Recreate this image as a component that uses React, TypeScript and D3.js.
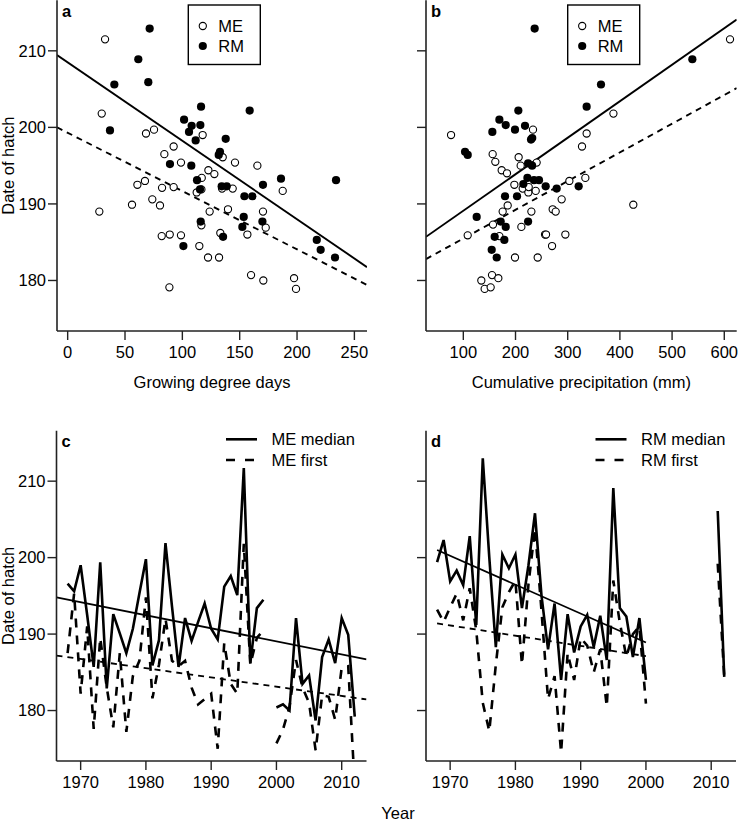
import React from 'react';
import * as d3 from 'd3';

// tick values
const hatchTicks = [180, 190, 200, 210];
const gddTicks = [0, 50, 100, 150, 200, 250];
const precipTicks = [100, 200, 300, 400, 500, 600];
const yearTicks = [1970, 1980, 1990, 2000, 2010];

// panel a: growing degree days vs date of hatch
const meGdd = [32.6, 29.7, 27.6, 68.3, 75.3, 56.1, 60.8, 67.4, 73.8, 80.5, 82.3, 84.3, 92.4, 92.4, 98.8, 82.0, 89.0, 98.8, 88.7, 112.5, 116.6, 117.7, 122.7, 127.9, 116.9, 116.6, 114.8, 122.4, 123.8, 132.0, 133.1, 135.2, 134.6, 143.9, 139.8, 145.9, 156.7, 159.9, 165.4, 170.3, 172.7, 170.6, 187.5, 197.4, 199.1];
const meGddHatch = [211.5, 201.8, 189.0, 199.2, 199.7, 189.9, 192.5, 193.0, 190.6, 189.8, 192.1, 196.5, 197.5, 192.2, 195.4, 185.8, 186.0, 185.9, 179.1, 191.5, 191.9, 199.0, 194.4, 193.9, 193.4, 187.2, 184.5, 183.0, 189.0, 183.0, 186.2, 196.1, 192.0, 192.0, 189.3, 195.4, 186.0, 180.7, 195.0, 189.0, 186.9, 180.0, 191.7, 180.3, 178.9];
const rmGdd = [71.5, 61.6, 70.3, 40.7, 36.9, 101.5, 108.1, 115.7, 105.8, 111.6, 116.3, 158.7, 137.8, 132.8, 131.7, 89.2, 107.8, 112.8, 115.4, 134.3, 138.7, 170.3, 186.0, 234.0, 154.1, 161.0, 116.0, 153.5, 169.8, 152.3, 135.5, 100.9, 217.2, 220.6, 233.1];
const rmGddHatch = [212.9, 208.9, 205.9, 205.6, 199.6, 201.0, 200.2, 200.3, 199.4, 198.3, 202.7, 202.2, 198.5, 196.8, 196.4, 195.2, 195.0, 193.1, 191.9, 192.3, 192.3, 192.5, 193.3, 193.1, 191.0, 191.0, 187.7, 188.3, 187.7, 187.0, 185.7, 184.5, 185.3, 184.0, 183.0];

// panel b: cumulative precipitation vs date of hatch
const mePrecip = [611, 76.5, 387.6, 336.3, 327.4, 233.5, 156.2, 161.3, 206.0, 209.9, 240.5, 173.5, 183.7, 197.8, 213.8, 224.6, 238.7, 225.3, 303.2, 333.8, 288.4, 185.0, 175.4, 230.4, 271.2, 277.0, 425.7, 156.9, 211.2, 108.4, 169.1, 256.6, 258.5, 295.5, 270.0, 199.0, 242.5, 134.5, 155.0, 167.1, 140.9, 152.4];
const mePrecipHatch = [211.5, 199.0, 201.8, 199.2, 197.5, 199.7, 196.5, 195.5, 196.1, 195.0, 195.4, 194.4, 194.0, 192.5, 192.0, 191.5, 191.7, 192.2, 193.0, 193.4, 190.6, 189.8, 189.0, 189.0, 189.3, 189.0, 189.9, 187.3, 187.0, 185.9, 185.8, 186.0, 186.0, 186.0, 184.5, 183.0, 183.0, 180.0, 180.7, 180.3, 178.9, 179.1];
const rmPrecip = [236.7, 538.8, 363.8, 336.3, 205.4, 169.1, 181.3, 199.0, 218.2, 155.6, 229.7, 232.0, 103.3, 108.4, 224.1, 231.8, 222.8, 245.0, 215.0, 235.4, 257.8, 278.9, 321.0, 179.9, 202.9, 125.6, 171.6, 224.1, 181.3, 160.1, 178.6, 154.4, 164.0];
const rmPrecipHatch = [212.9, 208.9, 205.6, 202.7, 202.2, 201.0, 200.3, 199.7, 200.2, 199.4, 198.4, 198.6, 196.8, 196.4, 195.3, 195.0, 193.4, 193.1, 192.6, 193.1, 192.3, 192.0, 192.3, 191.0, 191.0, 188.3, 187.7, 187.7, 187.0, 185.7, 185.3, 184.0, 183.0];

// regression fits [intercept, slope]
const gddFitME = [199.3, -0.0762];
const gddFitRM = [208.5, -0.1025];
const precipFitME = [181.73, 0.0375];
const precipFitRM = [184.34, 0.0477];

// panels c, d: yearly series
const years = [1968, 1969, 1970, 1971, 1972, 1973, 1974, 1975, 1976, 1977, 1978, 1979, 1980, 1981, 1982, 1983, 1984, 1985, 1986, 1987, 1988, 1989, 1990, 1991, 1992, 1993, 1994, 1995, 1996, 1997, 1998, 1999, 2000, 2001, 2002, 2003, 2004, 2005, 2006, 2007, 2008, 2009, 2010, 2011, 2012];
const meMedian = [196.6, 195.6, 199.0, 192.5, 185.7, 199.4, 182.9, 192.6, 190.1, 187.5, 190.7, 195.3, 199.8, 185.9, 189.2, 201.9, 193.6, 185.7, 192.1, 189.1, 191.6, 194.0, 190.7, 189.3, 196.2, 197.6, 195.1, 211.7, 186.2, 193.4, 194.5, null, 180.4, 180.8, 180.0, 192.1, 183.5, 184.6, 178.7, 187.0, 189.3, 186.2, 192.1, 189.9, 179.2];
const meFirst = [187.5, 195.3, 182.2, 191.0, 177.6, 189.5, 183.0, 177.8, 187.5, 177.2, 184.5, 186.5, 194.8, 181.6, 186.0, 192.0, 186.5, 185.8, 186.5, 183.0, 180.8, 181.5, 182.2, 175.0, 188.8, 183.5, 182.2, 201.8, 186.0, 189.5, 190.5, null, 175.7, 177.5, 180.5, 186.6, 183.0, 181.0, 174.8, 182.0, 181.8, 178.8, 185.6, 185.8, 170.0];
const rmMedian = [199.4, 202.3, 196.9, 198.3, 196.4, 202.8, 191.2, 213.0, 200.0, 188.3, 200.4, 198.6, 200.4, 193.4, 199.0, 205.8, 195.0, 188.0, 194.0, 184.0, 192.6, 187.6, 191.0, 192.5, 188.3, 192.4, 186.6, 209.1, 193.4, 192.3, 187.0, 192.1, 184.0, null, null, null, null, null, null, null, null, null, null, 206.1, 184.4];
const rmFirst = [193.2, 191.6, 193.5, 195.3, 191.8, 196.0, 190.5, 181.0, 177.3, 186.0, 193.5, 195.5, 197.0, 186.0, 196.5, 203.8, 193.0, 181.5, 184.5, 174.5, 187.5, 184.0, 189.5, 188.5, 185.0, 188.0, 180.5, 197.0, 191.5, 187.0, 190.0, 191.0, 180.9, null, null, null, null, null, null, null, null, null, null, 199.2, 184.4];

// trends: [value at 1968, slope per year, first year, last year]
const meMedianTrend = [194.51, -0.1705, 1966.3, 2013.8];
const meFirstTrend = [186.99, -0.121, 1966.3, 2013.8];
const rmMedianTrend = [201.0, -0.378, 1968, 2000];
const rmFirstTrend = [191.4, -0.134, 1968, 2000];

const FONT = 'Liberation Sans, Arial, Helvetica, sans-serif';
const FS = 16.5;

type Rect = { x0: number; x1: number; y0: number; y1: number };

function Axes({ r, x, y, xTicks, yLabels, xTitle }: any) {
  const tl = 9;
  return (
    <g fontFamily={FONT} fontSize={FS} fill="#000">
      <line x1={r.x0} x2={r.x0} y1={r.y0} y2={r.y1} stroke="#222" strokeWidth={1.6} />
      <line x1={r.x0} x2={r.x1} y1={r.y1} y2={r.y1} stroke="#222" strokeWidth={1.6} />
      {hatchTicks.map(t => (
        <g key={'y' + t}>
          <line x1={r.x0 - tl} x2={r.x0} y1={y(t)} y2={y(t)} stroke="#222" strokeWidth={1.4} />
          {yLabels && <text x={r.x0 - tl - 2} y={y(t)} dy="0.35em" textAnchor="end">{t}</text>}
        </g>
      ))}
      {xTicks.map((t: number) => (
        <g key={'x' + t}>
          <line x1={x(t)} x2={x(t)} y1={r.y1} y2={r.y1 + tl} stroke="#222" strokeWidth={1.4} />
          <text x={x(t)} y={r.y1 + 21} dy="0.35em" textAnchor="middle">{t}</text>
        </g>
      ))}
      {xTitle && <text x={(r.x0 + r.x1) / 2} y={r.y1 + 51} dy="0.35em" textAnchor="middle">{xTitle}</text>}
      {yLabels && (
        <text transform={`translate(14,${(r.y0 + r.y1) / 2}) rotate(-90)`} textAnchor="middle">Date of hatch</text>
      )}
    </g>
  );
}

function Scatter({ id, r, xDomain, xTicks, xTitle, label, meX, meY, rmX, rmY, fitME, fitRM, legendX, yLabels }: any) {
  const x = d3.scaleLinear().domain(xDomain).range([r.x0, r.x1]);
  const y = d3.scaleLinear().domain([173.4, 216.6]).range([r.y1, r.y0]);
  const fitLine = (f: number[]) => {
    const [a, b] = f;
    return `M${x(xDomain[0])},${y(a + b * xDomain[0])}L${x(xDomain[1])},${y(a + b * xDomain[1])}`;
  };
  return (
    <g>
      <clipPath id={id}><rect x={r.x0} y={r.y0} width={r.x1 - r.x0} height={r.y1 - r.y0} /></clipPath>
      <g clipPath={`url(#${id})`}>
        <path d={fitLine(fitRM)} stroke="#000" strokeWidth={1.9} fill="none" />
        <path d={fitLine(fitME)} stroke="#000" strokeWidth={1.9} fill="none" strokeDasharray="6,5" />
        {meX.map((v: number, i: number) => (
          <circle key={'m' + i} cx={x(v)} cy={y(meY[i])} r={3.6} fill="#fff" stroke="#000" strokeWidth={1.1} />
        ))}
        {rmX.map((v: number, i: number) => (
          <circle key={'r' + i} cx={x(v)} cy={y(rmY[i])} r={4.1} fill="#000" />
        ))}
      </g>
      <Axes r={r} x={x} y={y} xTicks={xTicks} yLabels={yLabels} xTitle={xTitle} />
      <text x={r.x0 + 5} y={r.y0 + 16.5} fontFamily={FONT} fontWeight="bold" fontSize={FS}>{label}</text>
      <g fontFamily={FONT} fontSize={FS}>
        <rect x={legendX} y={5} width={72} height={59.5} fill="#fff" stroke="#000" strokeWidth={1.4} />
        <circle cx={legendX + 14.5} cy={26} r={3.6} fill="#fff" stroke="#000" strokeWidth={1.1} />
        <text x={legendX + 30} y={26} dy="0.35em">ME</text>
        <circle cx={legendX + 14.5} cy={46} r={4.1} fill="#000" />
        <text x={legendX + 30} y={46} dy="0.35em">RM</text>
      </g>
    </g>
  );
}

function Series({ id, r, label, median, first, medTrend, firstTrend, names, yLabels }: any) {
  const x = d3.scaleLinear().domain([1966.3, 2013.8]).range([r.x0, r.x1]);
  const y = d3.scaleLinear().domain([173.4, 216.6]).range([r.y1, r.y0]);
  const line = d3.line<number | null>()
    .defined(d => d != null)
    .x((_, i) => x(years[i]))
    .y(d => y(d as number));
  const trend = (t: number[]) => {
    const [a, b, f, l] = t;
    return `M${x(f)},${y(a + b * (f - 1968))}L${x(l)},${y(a + b * (l - 1968))}`;
  };
  const lx = r.x0 + 169.5;
  return (
    <g>
      <clipPath id={id}><rect x={r.x0} y={r.y0} width={r.x1 - r.x0} height={r.y1 - r.y0} /></clipPath>
      <g clipPath={`url(#${id})`} fill="none" stroke="#000" strokeLinejoin="miter">
        <path d={line(first) || ''} strokeWidth={2.6} strokeDasharray="9,8" />
        <path d={line(median) || ''} strokeWidth={2.6} />
        <path d={trend(medTrend)} strokeWidth={1.8} />
        <path d={trend(firstTrend)} strokeWidth={1.8} strokeDasharray="6,5" />
      </g>
      <Axes r={r} x={x} y={y} xTicks={yearTicks} yLabels={yLabels} xTitle={null} />
      <text x={r.x0 + 5} y={r.y0 + 16.5} fontFamily={FONT} fontWeight="bold" fontSize={FS}>{label}</text>
      <g fontFamily={FONT} fontSize={FS}>
        <line x1={lx} x2={lx + 31} y1={439.3} y2={439.3} stroke="#000" strokeWidth={2.6} />
        <line x1={lx} x2={lx + 31} y1={460} y2={460} stroke="#000" strokeWidth={2.6} strokeDasharray="9,10" />
        <text x={lx + 45.5} y={439.3} dy="0.35em">{names[0]}</text>
        <text x={lx + 45.5} y={460} dy="0.35em">{names[1]}</text>
      </g>
    </g>
  );
}

export default function App() {
  const ra: Rect = { x0: 57, x1: 367, y0: 0.3, y1: 331 };
  const rb: Rect = { x0: 426, x1: 736.7, y0: 0.3, y1: 331 };
  const rc: Rect = { x0: 56.5, x1: 366.5, y0: 430.7, y1: 761 };
  const rd: Rect = { x0: 426, x1: 736, y0: 430.7, y1: 761 };
  return (
    <svg width={738} height={827} style={{ position: 'absolute', left: 0, top: 0, background: '#fff' }}>
      <rect width={738} height={827} fill="#fff" />
      <Scatter id="clipA" r={ra} xDomain={[-9.3, 261]} xTicks={gddTicks} xTitle="Growing degree days" label="a"
        meX={meGdd} meY={meGddHatch} rmX={rmGdd} rmY={rmGddHatch} fitME={gddFitME} fitRM={gddFitRM} legendX={188.3} yLabels />
      <Scatter id="clipB" r={rb} xDomain={[28.5, 623.8]} xTicks={precipTicks} xTitle="Cumulative precipitation (mm)" label="b"
        meX={mePrecip} meY={mePrecipHatch} rmX={rmPrecip} rmY={rmPrecipHatch} fitME={precipFitME} fitRM={precipFitRM} legendX={567.7} yLabels={false} />
      <Series id="clipC" r={rc} label="c" median={meMedian} first={meFirst} medTrend={meMedianTrend} firstTrend={meFirstTrend}
        names={['ME median', 'ME first']} yLabels />
      <Series id="clipD" r={rd} label="d" median={rmMedian} first={rmFirst} medTrend={rmMedianTrend} firstTrend={rmFirstTrend}
        names={['RM median', 'RM first']} yLabels={false} />
      <text x={398} y={813} dy="0.35em" textAnchor="middle" fontFamily={FONT} fontSize={FS}>Year</text>
    </svg>
  );
}
